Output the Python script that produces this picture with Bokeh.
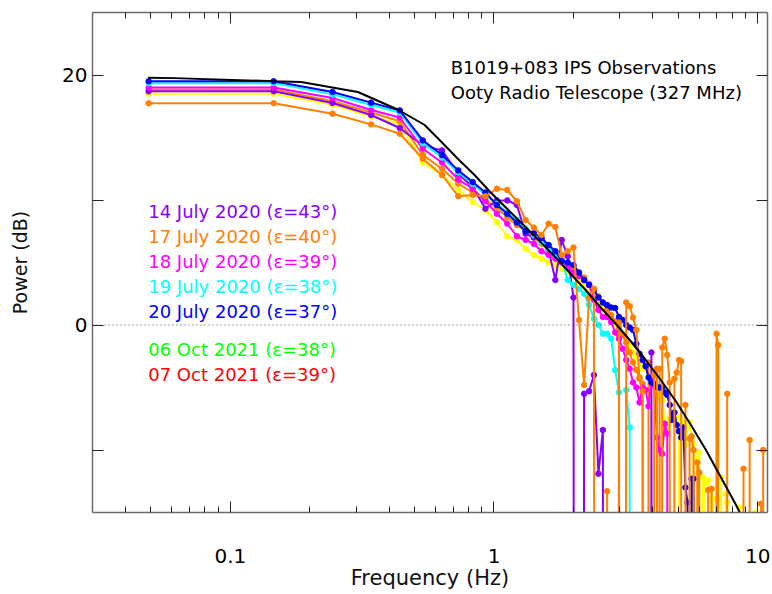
from bokeh.plotting import figure
from bokeh.models import (Range1d, FixedTicker, LogAxis, LinearAxis, Span, Label,
                          CustomJSTickFormatter)
from bokeh.embed import file_html
from bokeh.resources import INLINE

# Spectral bin centres (Hz)
FREQ = [0.049, 0.146, 0.244, 0.342, 0.439, 0.537, 0.635, 0.732, 0.830, 0.928,
        1.025, 1.123, 1.221, 1.318, 1.416, 1.514, 1.611, 1.709, 1.807, 1.904,
        2.002, 2.100, 2.197, 2.295, 2.393, 2.490, 2.588, 2.686, 2.783, 2.881,
        2.979, 3.076, 3.174, 3.271, 3.369, 3.467, 3.564, 3.662, 3.760, 3.857,
        3.955, 4.053, 4.150, 4.248, 4.346, 4.443, 4.541, 4.639, 4.736, 4.834,
        4.932, 5.029, 5.127, 5.225, 5.322, 5.420, 5.518, 5.615, 5.713, 5.811,
        5.908, 6.006, 6.104, 6.201, 6.299, 6.396, 6.494, 6.592, 6.689, 6.787,
        6.885, 6.982, 7.080, 7.178, 7.275, 7.373, 7.471, 7.568, 7.666, 7.764,
        7.861, 7.959, 8.057, 8.154, 8.252, 8.350, 8.447, 8.545, 8.643, 8.740,
        8.838, 8.936, 9.033, 9.131, 9.229, 9.326, 9.424, 9.521, 9.619, 9.717,
        9.814, 9.912, 10.010, 10.107, 10.205, 10.303, 10.400, 10.498, 10.596, 10.693]

# bins whose power fell below the noise floor (log of a non-positive value)
D = -400.0

P_14JUL = [18.7, 18.7, 17.76, 16.8, 15.76, 14.37, 13.97, 12.1, 11.04, 9.3,
           9.97, 9.97, 9.6, 7.3, 7.0, 6.9, 6.0, 3.6, 6.8, 5.5,
           2.2, D, -5.5, -5.3, -4.0, -11.9, -8.4, D, D, D,
           D, D, D, D, D, D, D, D, D, D,
           -2.2, D, D, D, D, D, D, D, D, D,
           D, D, D, D, D, D, D, D, D, D,
           D, D, D, D, D, D, D, D, D, D,
           D, D, D, D, D, D, D, D, D, D,
           D, D, D, D, D, D, D, D, D, D,
           D, D, D, D, D, D, D, D, D, D,
           D, D, D, D, D, D, D, D, D, D]

P_17JUL = [17.74, 17.74, 16.9, 16.05, 15.3, 13.3, 12.0, 10.3, 10.4, 10.3,
           10.9, 10.8, 9.9, 8.4, 7.8, 7.2, 8.1, 7.84, 5.6, 5.9,
           6.2, 0.4, -4.8, 2.2, 2.9, D, D, -13.3, D, D,
           0.2, D, 1.8, 1.5, 0.6, -0.4, -4.3, -5.3, D, D,
           D, -4.0, -3.5, D, -1.8, -1.1, -2.4, -4.6, D, -4.3,
           -3.8, -2.8, -2.9, D, -6.4, D, -9.1, -8.9, -10.0, D,
           -11.0, -11.8, D, D, D, D, -13.2, D, -13.1, D,
           D, -0.7, -1.6, D, D, D, D, D, -5.5, D,
           D, D, D, D, D, D, D, D, D, D,
           -11.5, D, D, D, D, -9.2, D, D, D, D,
           D, D, D, D, D, -14.3, D, -10.0, D, D]

P_17JUL_B = [18.85, 18.85, 17.9, 17.0, 16.3, 13.6, 12.5, 11.3, 10.6, 10.0,
             9.4, 8.6, 8.0, 7.5, 7.0, 6.5, 6.2, 5.8, 5.3, 5.0,
             4.6, 4.2, 3.8, 3.3, 2.8, 2.3, 1.8, 1.2, 0.8, 0.3,
             -0.2, -0.8, -1.4, -2.2, -3.0, -3.6, -4.2, -4.7, D, -3.0,
             D, D, D, -3.5, D, D, D, D, D, D,
             D, D, D, D, D, D, D, D, D, D,
             D, D, D, D, D, D, D, D, D, D,
             D, D, D, D, D, D, D, D, D, D,
             D, D, D, D, D, D, D, D, D, D,
             D, D, D, D, D, D, D, D, D, D,
             D, D, D, D, D, D, D, D, D, D]

P_18JUL = [19.0, 19.0, 18.16, 17.2, 16.6, 14.1, 13.0, 11.65, 10.9, 9.9,
           8.9, 8.1, 7.1, 6.8, 6.5, 5.9, 5.6, 5.3, 5.0, 4.6,
           4.2, 3.9, 3.6, 3.2, 2.0, 1.2, 0.64, 0.64, 0.24, -0.6,
           -1.1, -1.9, -2.8, -3.5, -4.6, -5.0, -6.2, -5.0, -5.2, -6.5,
           -4.3, -4.8, -9.0, -10.0, -10.3, -7.9, -8.7, D, D, D,
           D, D, D, D, D, D, D, D, D, D,
           D, D, D, D, D, D, D, D, D, D,
           D, D, D, D, D, D, D, D, D, D,
           D, D, D, D, D, D, D, D, D, D,
           D, D, D, D, D, D, D, D, D, D,
           D, D, D, D, D, D, D, D, D, D]

P_19JUL = [19.35, 19.35, 18.45, 17.6, 17.0, 14.55, 13.4, 12.2, 11.3, 10.4,
           9.7, 9.0, 8.4, 7.7, 7.2, 6.6, 6.1, 5.6, 5.2, 3.6,
           3.2, 2.9, 2.5, 1.6, 0.5, 0.0, -0.7, -0.7, -1.1, -3.6,
           -5.4, D, -5.2, -8.2, D, D, D, D, D, D,
           D, D, D, D, D, D, D, D, D, D,
           D, D, D, D, D, D, D, D, D, D,
           D, D, D, D, D, D, D, D, D, D,
           D, D, D, D, D, D, D, D, D, D,
           D, D, D, D, D, D, D, D, D, D,
           D, D, D, D, D, D, D, D, D, D,
           D, D, D, D, D, D, D, D, D, D]

P_20JUL = [19.5, 19.5, 18.64, 17.79, 17.17, 14.77, 13.6, 12.37, 11.44, 10.6,
           9.6, 8.9, 8.2, 7.5, 7.36, 6.96, 6.4, 5.9, 5.1, 5.0,
           4.8, 4.2, 3.6, 3.2, 2.8, 2.2, 1.8, 1.6, 1.4, 1.36,
           0.64, 0.4, 0.0, -0.2, -0.4, -1.5, -2.3, -2.8, -3.3, -4.2,
           -4.6, -4.7, -5.0, -5.0, -5.0, -5.4, -5.6, -6.4, -7.6, -7.0,
           -8.0, -8.5, -9.0, -8.2, -13.0, -14.2, D, -12.3, -12.3, D,
           D, D, D, D, D, D, D, D, D, D,
           D, D, D, D, D, D, D, D, D, D,
           D, D, D, D, D, D, D, D, D, D,
           D, D, D, D, D, D, D, D, D, D,
           D, D, D, D, D, D, D, D, D, D]

P_YELLOW = [18.5, 18.5, 17.62, 16.67, 16.1, 13.0, 12.0, 10.8, 9.84, 9.2,
            8.2, 7.1, 6.8, 6.1, 5.6, 5.3, 5.0, 4.8, 4.5, 4.2,
            3.9, 3.5, 3.2, 2.6, 2.2, 1.8, 1.3, 0.9, 0.5, 0.1,
            -0.3, -0.7, -1.2, -1.7, -2.2, -2.6, -3.0, -3.5, -3.2, -4.0,
            -4.5, -4.7, -5.0, -5.7, -6.0, -7.8, -8.3, -7.5, -7.0, -7.4,
            D, -7.4, -7.6, -7.9, -9.6, -8.2, -7.8, -9.1, -9.5, D,
            -10.7, -10.2, D, -12.2, -12.6, D, -12.4, D, -13.1, -13.9,
            D, D, -13.9, D, -12.2, D, D, -13.5, -14.2, D,
            D, D, D, D, D, D, D, -14.6, D, D,
            D, D, D, D, D, D, D, D, D, D,
            -15.0, D, D, D, D, D, D, D, D, D]

# Model spectrum
MODEL_FREQ = [0.0488, 0.0612, 0.1465, 0.1855, 0.3046, 0.435, 0.5456, 0.6283, 0.7289,
              0.8436, 0.9715, 1.1209, 1.2933, 1.4922, 1.7136, 1.952, 2.2262, 2.5387,
              2.8948, 3.3016, 3.7653, 4.2937, 4.8965, 5.584, 6.3684, 7.2622, 8.2823, 9.4455]
MODEL_DB = [19.78, 19.75, 19.5, 19.44, 18.64, 17.2, 16.0, 14.7, 13.3,
            12.0, 10.6, 9.3, 8.0, 6.7, 5.4, 4.1, 2.8, 1.4,
            0.1, -1.3, -2.8, -4.4, -6.1, -8.0, -10.0, -12.2, -14.4, -16.8]

LEGEND = [("14 July 2020 (\u03b5=43\u00b0)", "#8800ff"),
          ("17 July 2020 (\u03b5=40\u00b0)", "#ff8000"),
          ("18 July 2020 (\u03b5=39\u00b0)", "#ff00ff"),
          ("19 July 2020 (\u03b5=38\u00b0)", "#00ffff"),
          ("20 July 2020 (\u03b5=37\u00b0)", "#0000ff"),
          ("06 Oct 2021 (\u03b5=38\u00b0)", "#00ff00"),
          ("07 Oct 2021 (\u03b5=39\u00b0)", "#ff0000")]
LEGEND_DB = [9.12, 7.12, 5.12, 3.12, 1.12, -1.92, -3.92]

TITLE_LINES = ["B1019+083 IPS Observations", "Ooty Radio Telescope (327 MHz)"]
TITLE_DB = [20.64, 18.64]

FONT = "DejaVu Sans"
FS = "18px"
TICK_FS = "20px"
AXIS_GREY = "#6a6a6a"

p = figure(width=772, height=594, x_axis_type="log",
           x_range=Range1d(0.03, 10.9), y_range=Range1d(-15, 25),
           output_backend="svg", toolbar_location=None,
           min_border_left=92, min_border_right=5, min_border_top=12, min_border_bottom=82)
p.xgrid.visible = False
p.ygrid.visible = False
p.outline_line_color = None
p.background_fill_color = "white"
p.border_fill_color = "white"

x_ticker = FixedTicker(ticks=[0.1, 1, 10],
                       minor_ticks=[0.04, 0.05, 0.06, 0.07, 0.08, 0.09,
                                    0.2, 0.3, 0.4, 0.5, 0.6, 0.7, 0.8, 0.9,
                                    2, 3, 4, 5, 6, 7, 8, 9])
y_ticker = FixedTicker(ticks=[0, 20], minor_ticks=[-10, 10])


def style_axis(ax, major_len, minor_len, labels=True):
    ax.axis_line_color = AXIS_GREY
    ax.axis_line_width = 1.5
    ax.major_tick_line_color = "#222222"
    ax.minor_tick_line_color = "#222222"
    ax.major_tick_in = major_len
    ax.major_tick_out = 0
    ax.minor_tick_in = minor_len
    ax.minor_tick_out = 0
    ax.major_label_text_font = FONT
    ax.major_label_text_color = "black"
    if labels:
        ax.major_label_text_font_size = TICK_FS
    else:
        # mirrored frame axes carry ticks only
        ax.major_label_text_font_size = "1px"
        ax.major_label_text_alpha = 0
        ax.major_label_standoff = 0


xa = p.xaxis[0]
xa.ticker = x_ticker
xa.formatter = CustomJSTickFormatter(code="return String(tick);")
style_axis(xa, 11, 6)
xa.major_label_standoff = 36
xa.axis_label = "Frequency (Hz)"
xa.axis_label_text_font = FONT
xa.axis_label_text_font_size = "21px"
xa.axis_label_text_font_style = "normal"
xa.axis_label_text_color = "#111111"
xa.axis_label_standoff = 0

ya = p.yaxis[0]
ya.ticker = y_ticker
style_axis(ya, 11, 11)
ya.major_label_standoff = 5
ya.axis_label = "Power (dB)"
ya.axis_label_text_font = FONT
ya.axis_label_text_font_size = "19px"
ya.axis_label_text_font_style = "normal"
ya.axis_label_text_color = "#111111"
ya.axis_label_standoff = 28

top = LogAxis(ticker=x_ticker)
style_axis(top, 11, 6, labels=False)
p.add_layout(top, "above")

right = LinearAxis(ticker=y_ticker)
style_axis(right, 11, 11, labels=False)
p.add_layout(right, "right")

p.add_layout(Span(location=0, dimension="width", line_color="#444444",
                  line_width=1, line_dash="1 3"))

series = [(P_YELLOW, "#ffff00"), (P_17JUL_B, "#ff8000"), (P_14JUL, "#8800ff"),
          (P_18JUL, "#ff00ff"), (P_19JUL, "#00ffff"), (P_20JUL, "#0000ff"),
          (P_17JUL, "#ff8000")]
for vals, col in series:
    p.line(FREQ, vals, line_color=col, line_width=2)
    p.scatter(FREQ, vals, size=5.5, fill_color=col, line_color=col)

p.line(MODEL_FREQ, MODEL_DB, line_color="black", line_width=2)

for (txt, col), yv in zip(LEGEND, LEGEND_DB):
    p.add_layout(Label(x=0.0488, y=yv, text=txt, text_color=col, text_font=FONT,
                       text_font_size=FS, text_baseline="middle", text_align="left"))

for txt, yv in zip(TITLE_LINES, TITLE_DB):
    p.add_layout(Label(x=0.6855, y=yv, text=txt, text_color="black", text_font=FONT,
                       text_font_size=FS, text_baseline="middle", text_align="left"))

open("out.html", "w").write(file_html(p, INLINE))
